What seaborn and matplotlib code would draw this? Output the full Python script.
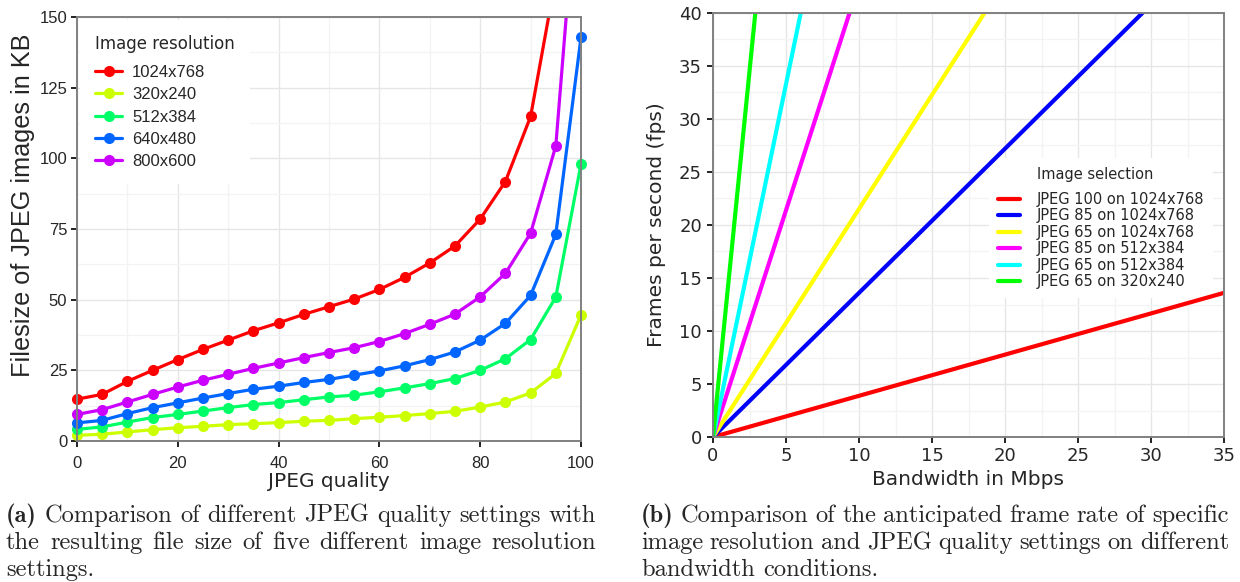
import numpy as np
import pandas as pd
import matplotlib
matplotlib.use("Agg")
import matplotlib.pyplot as plt
from matplotlib.transforms import Bbox, TransformedBbox
from matplotlib.ticker import MultipleLocator
from matplotlib.offsetbox import HPacker, DrawingArea
import seaborn as sns

# ---- file size of JPEG images (KB) against JPEG quality ----
quality = list(range(0, 101, 5))
size_1024x768 = [14.8, 16.5, 21.1, 25.0, 28.8, 32.4, 35.7, 39.0, 41.8, 44.8, 47.5,
                 50.2, 53.6, 57.9, 63.0, 69.0, 78.5, 91.8, 114.8, 164.0, 322.0]
size_320x240 = [2.0, 2.4, 3.2, 4.0, 4.7, 5.2, 5.8, 6.1, 6.5, 7.0, 7.3,
                7.9, 8.4, 9.0, 9.7, 10.5, 12.0, 13.8, 17.0, 23.9, 44.6]
size_512x384 = [4.1, 5.0, 6.7, 8.3, 9.4, 10.6, 11.8, 12.9, 13.6, 14.6, 15.6,
                16.2, 17.4, 18.8, 20.3, 22.1, 25.0, 29.1, 35.9, 50.9, 98.0]
size_640x480 = [6.4, 7.3, 9.7, 11.8, 13.5, 15.2, 16.8, 18.3, 19.4, 20.7, 21.8,
                23.3, 24.8, 26.6, 28.8, 31.5, 35.7, 41.6, 51.5, 73.1, 142.8]
size_800x600 = [9.4, 11.1, 13.8, 16.5, 19.1, 21.5, 23.6, 25.7, 27.6, 29.5, 31.3,
                33.0, 35.2, 38.0, 41.3, 44.9, 51.0, 59.3, 73.5, 104.4, 215.0]
resolutions = ["1024x768", "320x240", "512x384", "640x480", "800x600"]
resolution_colors = ["#ff0000", "#ccff00", "#00ff66", "#0066ff", "#cc00ff"]

# ---- frame rate against bandwidth ----
bandwidth = [0, 35]
selections = ["JPEG 100 on 1024x768", "JPEG 85 on 1024x768", "JPEG 65 on 1024x768",
              "JPEG 85 on 512x384", "JPEG 65 on 512x384", "JPEG 65 on 320x240"]
fps_at_0 = [0, 0, 0, 0, 0, 0]
fps_at_35 = [13.6, 47.6, 75.3, 149.7, 233.0, 483.0]
selection_colors = ["#ff0000", "#0000ff", "#ffff00", "#ff00ff", "#00ffff", "#00ff00"]

size_df = pd.DataFrame({
    "quality": quality * len(resolutions),
    "size": size_1024x768 + size_320x240 + size_512x384 + size_640x480 + size_800x600,
    "resolution": [r for r in resolutions for _ in quality],
})
fps_df = pd.DataFrame({
    "bandwidth": bandwidth * len(selections),
    "fps": [v for pair in zip(fps_at_0, fps_at_35) for v in pair],
    "selection": [s for s in selections for _ in bandwidth],
})

sns.set_theme(style="whitegrid")
plt.rcParams["font.family"] = ["DejaVu Sans"]

W, H = 1240, 582
fig = plt.figure(figsize=(W / 100, H / 100), dpi=100)


def px_axes(x0, y0, x1, y1):
    return fig.add_axes([x0 / W, 1 - y1 / H, (x1 - x0) / W, (y1 - y0) / H])


def style_axes(ax, tick_font, tick_size, xpad, ypad):
    ax.set_facecolor("white")
    for s in ax.spines.values():
        s.set_visible(True)
        s.set_color("#808080")
        s.set_linewidth(1.4)
    ax.grid(True, which="major", color="#e6e6e6", linewidth=1.0)
    ax.grid(True, which="minor", color="#f3f3f3", linewidth=0.9)
    ax.tick_params(axis="both", which="major", direction="out", length=4,
                   width=1.4, color="#222222", labelsize=tick_size,
                   left=True, bottom=True)
    ax.tick_params(axis="x", which="major", pad=xpad)
    ax.tick_params(axis="y", which="major", pad=ypad)
    ax.tick_params(axis="both", which="minor", length=0)
    for lab in ax.get_xticklabels() + ax.get_yticklabels():
        lab.set_fontfamily(tick_font)
    ax.set_axisbelow(True)


# ---------------- left panel ----------------
ax1 = px_axes(77, 17, 581, 441)
sns.lineplot(data=size_df, x="quality", y="size", hue="resolution",
             hue_order=resolutions, palette=resolution_colors, marker="o",
             markersize=8, markeredgewidth=0, linewidth=2.3, ax=ax1)
ax1.set_xlim(0, 100)
ax1.set_ylim(0, 150)
ax1.xaxis.set_major_locator(MultipleLocator(20))
ax1.xaxis.set_minor_locator(MultipleLocator(10))
ax1.yaxis.set_major_locator(MultipleLocator(25))
ax1.yaxis.set_minor_locator(MultipleLocator(12.5))
style_axes(ax1, "Liberation Sans", 12, 6.5, 3)
clip = TransformedBbox(Bbox([[-0.03, -0.03], [1.03, 1.0]]), ax1.transAxes)
for ln in ax1.lines:
    ln.set_clip_box(clip)
ax1.set_xlabel("JPEG quality", fontsize=14.5, fontfamily="DejaVu Sans", labelpad=1)
ax1.set_ylabel("Filesize of JPEG images in KB", fontsize=18.2,
               fontfamily="Liberation Sans")
ax1.yaxis.set_label_coords(-0.0835, 0.557)
leg1 = ax1.legend(title="Image resolution", loc="upper left",
                  bbox_to_anchor=(0.0, 1.0), frameon=True, framealpha=1,
                  facecolor="white", edgecolor="none", fancybox=False,
                  prop={"family": "Liberation Sans", "size": 12},
                  title_fontproperties={"family": "DejaVu Sans", "size": 12},
                  labelspacing=0.44, handlelength=1.6, handletextpad=0.6,
                  borderpad=0.9, borderaxespad=0.2)
leg1._legend_box.align = "left"
leg1._legend_box.sep = 8.4

# ---------------- right panel ----------------
ax2 = px_axes(713, 13, 1224, 437)
sns.lineplot(data=fps_df, x="bandwidth", y="fps", hue="selection",
             hue_order=selections, palette=selection_colors, linewidth=3.0, ax=ax2)
ax2.set_xlim(0, 35)
ax2.set_ylim(0, 40)
ax2.xaxis.set_major_locator(MultipleLocator(5))
ax2.xaxis.set_minor_locator(MultipleLocator(2.5))
ax2.yaxis.set_major_locator(MultipleLocator(5))
ax2.yaxis.set_minor_locator(MultipleLocator(2.5))
style_axes(ax2, "DejaVu Sans", 13, 3, 4)
ax2.set_xlabel("Bandwidth in Mbps", fontsize=14.5, labelpad=4)
ax2.set_ylabel("Frames per second (fps)", fontsize=14.5, labelpad=9)
leg2 = ax2.legend(title="Image selection", loc="upper left",
                  bbox_to_anchor=(0.540, 0.657), frameon=True, framealpha=1,
                  facecolor="white", edgecolor="none", fancybox=False,
                  prop={"family": "DejaVu Sans", "size": 10.5},
                  title_fontproperties={"family": "DejaVu Sans", "size": 10.5},
                  labelspacing=0.1, handlelength=1.5, handletextpad=1.2,
                  borderpad=0.6, borderaxespad=0)
leg2._legend_box.align = "left"
leg2._legend_box.sep = 7
# indent the legend title so it lines up with the entry labels
indent = DrawingArea(10.5 * (1.5 + 1.2), 1)
leg2._legend_box._children[0] = HPacker(
    children=[indent, leg2._legend_title_box], pad=0, sep=0)
leg2._legend_box.set_figure(fig)
# the legend box hides the grid but sits underneath the data lines
leg2.set_zorder(1.5)

# ---------------- captions ----------------
renderer = fig.canvas.get_renderer()
CAP_SIZE = 17.6


def caption_line(x0, x1, y, parts, justify):
    """Place (word, bold) pairs on one baseline, justified between x0 and x1."""
    texts = []
    for word, bold in parts:
        t = fig.text(0, 1 - y / H, word, fontsize=CAP_SIZE,
                     fontfamily="cmb10" if bold else "cmr10", va="baseline")
        texts.append(t)
    widths = [t.get_window_extent(renderer).width for t in texts]
    probe = fig.text(0, 0, "a b", fontsize=CAP_SIZE, fontfamily="cmr10")
    sw = probe.get_window_extent(renderer).width
    probe.remove()
    probe = fig.text(0, 0, "ab", fontsize=CAP_SIZE, fontfamily="cmr10")
    sw -= probe.get_window_extent(renderer).width
    probe.remove()
    if justify and len(texts) > 1:
        gap = ((x1 - x0) - sum(widths)) / (len(texts) - 1)
    else:
        gap = sw
    x = x0
    for t, w in zip(texts, widths):
        t.set_x(x / W)
        x += w + gap


def words(s):
    return [(w, False) for w in s.split()]


caption_line(6, 596, 522, [("(a)", True)] + words(
    "Comparison of different JPEG quality settings with"), True)
caption_line(6, 596, 549, words(
    "the resulting file size of five different image resolution"), True)
caption_line(6, 596, 576, words("settings."), False)

caption_line(641, 1229, 522, [("(b)", True)] + words(
    "Comparison of the anticipated frame rate of specific"), True)
caption_line(641, 1229, 549, words(
    "image resolution and JPEG quality settings on different"), True)
caption_line(641, 1229, 576, words("bandwidth conditions."), False)

fig.savefig("out.png", dpi=100, facecolor="white")
